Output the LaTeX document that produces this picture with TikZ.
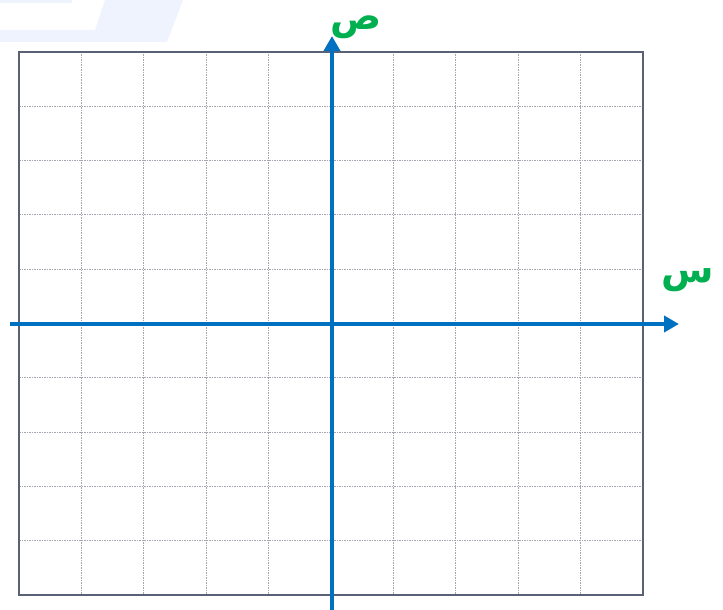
\documentclass[tikz,border=0pt]{standalone}
\usepackage{fontspec}
\newfontfamily\arabicfont[Script=Arabic]{DejaVu Sans}
\TeXXeTstate=1
\usetikzlibrary{arrows.meta}
\definecolor{axisblue}{RGB}{0,112,192}
\definecolor{labgreen}{RGB}{0,176,80}
\definecolor{gridgray}{RGB}{165,165,175}
\definecolor{framecol}{RGB}{90,97,118}
\definecolor{bgblue}{RGB}{238,243,254}
\tikzset{
  gridline/.style={gridgray, line width=0.9pt, dash pattern=on 1.5pt off 1pt},
  frameline/.style={framecol, line width=1.5pt},
  axisline/.style={axisblue, line width=4pt, -{Triangle[length=15pt,width=16pt]}},
  arlabel/.style={labgreen, font=\arabicfont\bfseries\fontsize{38}{40}\selectfont, inner sep=0pt}
}
\begin{document}
\begin{tikzpicture}[x=1pt,y=-1pt]
\useasboundingbox (0,0) rectangle (723,610);
\fill[white] (0,0) rectangle (723,610);
% faint decorative shape
\fill[bgblue] (0,0) -- (72,0) -- (72,3) -- (0,3) -- cycle;
\fill[bgblue] (0,30) -- (95,30) -- (105,0) -- (183,0) -- (167,42) -- (0,42) -- cycle;
% grid
\foreach \i in {1,...,9} {
  \draw[gridline] ({19+\i*62.4},52) -- ({19+\i*62.4},595);
  \draw[gridline] (19,{52+\i*54.3}) -- (643,{52+\i*54.3});
}
\draw[frameline] (19,52) rectangle (643,595);
% axes
\coordinate (xs) at (10,324);
\coordinate (xe) at (679,324);
\coordinate (ys) at (332,610);
\coordinate (ye) at (332,36);
\draw[axisline] (xs) -- (xe);
\draw[axisline] (ys) -- (ye);
% labels
\node[arlabel] (ylab) at (356,27) {\beginR ص\endR};
\node[arlabel] (xlab) at (688,280) {\beginR س\endR};
\end{tikzpicture}
\end{document}
